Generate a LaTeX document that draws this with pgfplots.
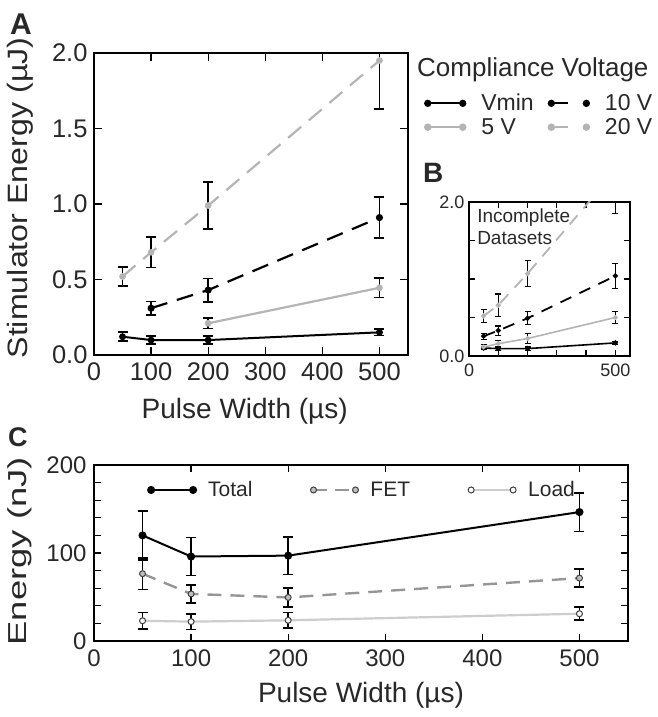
\documentclass[border=0pt]{standalone}
\usepackage{fontspec}
\setmainfont{Liberation Sans}
\usepackage{graphicx}
\usepackage{pgfplots}
\pgfplotsset{compat=1.18}

\definecolor{txt}{RGB}{40,40,40}
\definecolor{lgray}{RGB}{180,180,180}
\definecolor{fetgray}{RGB}{150,150,150}
\definecolor{loadgray}{RGB}{205,205,205}

\pgfplotsset{
  myaxis/.style={
    scale only axis,
    axis line style={line width=2.6pt, black},
    tick style={line width=1.2pt, black},
    major tick length=8pt,
    tick align=inside,
    /pgf/number format/assume math mode=true,
    ticklabel style={font=\fontsize{24}{26}\selectfont, text=txt},
    label style={font=\fontsize{28}{30}\selectfont, text=txt},
    legend cell align=left,
    legend image code/.code={\draw[mark repeat=1,#1] plot coordinates {(0pt,0pt) (35pt,0pt)};},
  },
  eb/.style={error bars/y dir=both, error bars/y explicit,
    error bars/error bar style={line width=1.7pt, black, solid},
    error bars/error mark options={rotate=90, mark size=5pt, line width=1.7pt, black, solid}},
  ebs/.style={error bars/y dir=both, error bars/y explicit,
    error bars/error bar style={line width=1.2pt, black, solid},
    error bars/error mark options={rotate=90, mark size=3pt, line width=1.2pt, black, solid}},
}

\begin{document}
\begin{tikzpicture}
\useasboundingbox (0,0) rectangle (658pt,717pt);

% ---------------- Panel A ----------------
\begin{axis}[myaxis, at={(94pt,362pt)}, anchor=south west,
  width=314pt, height=302pt,
  xmin=0, xmax=550, ymin=0, ymax=2,
  ticklabel style={font=\fontsize{25.5}{27}\selectfont},
  xtick={0,100,200,300,400,500}, ytick={0,0.5,1,1.5,2},
  yticklabel style={/pgf/number format/fixed, /pgf/number format/fixed zerofill, /pgf/number format/precision=1, xshift=-3pt},
  xticklabel style={yshift=-4pt},
  xlabel={Pulse Width (µs)},
  ylabel={\scalebox{1.15}[1]{Stimulator Energy (µJ)}},
  xlabel style={at={(axis description cs:0.48,-0.209)}, anchor=base},
  ylabel style={at={(axis description cs:-0.236,0.52)}, anchor=center},
  legend columns=2,
  legend style={at={(axis description cs:1.054,0.864)}, anchor=north west,
    draw=none, fill=none, inner sep=0pt,
    font=\fontsize{23}{25}\selectfont, text=txt,
    nodes={inner sep=0pt},
    row sep=6pt,
    /tikz/every odd column/.append style={column sep=16pt},
    /tikz/every even column/.append style={column sep=15pt}},
]
\addplot[black, line width=2pt, mark=*, mark size=2.4pt, eb, forget plot]
  table[x=x, y=y, y error=e] {
x y e
50 0.121 0.030
100 0.099 0.025
200 0.099 0.025
500 0.150 0.020
};
\addplot[lgray, line width=2.2pt, mark=*, mark size=2.2pt, eb, forget plot]
  table[x=x, y=y, y error=e] {
x y e
200 0.210 0.035
500 0.445 0.065
};
\addplot[black, line width=2.2pt, dash pattern=on 17pt off 10pt, mark=*, mark size=2.4pt, mark options={solid}, eb, forget plot]
  table[x=x, y=y, y error=e] {
x y e
100 0.310 0.045
200 0.430 0.077
500 0.910 0.135
};
\addplot[lgray, line width=2.2pt, dash pattern=on 17pt off 10pt, mark=*, mark size=2.2pt, mark options={solid}, eb, forget plot]
  table[x=x, y=y, y error=e] {
x y e
50 0.520 0.065
100 0.680 0.100
200 0.990 0.155
500 1.950 0.320
};
\addlegendimage{black, line width=2pt, mark=*, mark size=2.6pt}
\addlegendentry{Vmin}
\addlegendimage{black, line width=2pt, dash pattern=on 17pt off 40pt, mark=*, mark size=2.6pt, mark options={solid}}
\addlegendentry{10 V}
\addlegendimage{lgray, line width=2.2pt, mark=*, mark size=2.6pt}
\addlegendentry{5 V}
\addlegendimage{lgray, line width=2.2pt, dash pattern=on 17pt off 40pt, mark=*, mark size=2.6pt, mark options={solid}}
\addlegendentry{20 V}
\end{axis}

% ---------------- Panel B ----------------
\begin{axis}[myaxis, at={(469pt,361pt)}, anchor=south west,
  width=161pt, height=154pt,
  xmin=0, xmax=550, ymin=0, ymax=2,
  clip mode=individual,
  major tick length=6pt,
  ticklabel style={font=\fontsize{18}{20}\selectfont, text=txt},
  xtick={0,100,200,300,400,500}, xticklabels={0,,,,,500},
  ytick={0,0.5,1,1.5,2}, yticklabels={0.0,,,,2.0},
  yticklabel style={xshift=-1pt},
  xticklabel style={yshift=-4pt},
]
\addplot[black, line width=1.6pt, mark=*, mark size=1.8pt, ebs]
  table[x=x, y=y, y error=e] {
x y e
50 0.104 0.020
100 0.096 0.020
200 0.096 0.020
500 0.170 0.020
};
\addplot[lgray, line width=1.6pt, mark=*, mark size=1.6pt, ebs]
  table[x=x, y=y, y error=e] {
x y e
50 0.117 0.030
100 0.160 0.045
200 0.227 0.065
500 0.500 0.076
};
\addplot[black, line width=1.8pt, dash pattern=on 12pt off 9pt, mark=*, mark size=1.6pt, mark options={solid}, ebs]
  table[x=x, y=y, y error=e] {
x y e
50 0.257 0.040
100 0.330 0.060
200 0.490 0.085
500 1.040 0.160
};
\addplot[lgray, line width=1.8pt, dash pattern=on 12pt off 9pt, mark=*, mark size=1.6pt, mark options={solid}, ebs]
  table[x=x, y=y, y error=e] {
x y e
50 0.520 0.085
100 0.660 0.145
200 1.070 0.170
500 2.400 0.550
};
\node[anchor=north west, align=left, inner sep=0pt, text=txt,
  font=\fontsize{19}{22}\selectfont] at (axis description cs:0.05,0.955)
  {Incomplete\\Datasets};
\end{axis}

% ---------------- Panel C ----------------
\begin{axis}[myaxis, at={(94pt,76pt)}, anchor=south west,
  width=534pt, height=176pt,
  xmin=0, xmax=550, ymin=0, ymax=200,
  major tick length=7pt,
  xtick={0,100,200,300,400,500},
  ytick={0,20,40,60,80,100,120,140,160,180,200},
  yticklabels={0,,,,,100,,,,,200},
  yticklabel style={xshift=-4pt},
  xticklabel style={yshift=-5pt},
  xlabel={Pulse Width (µs)},
  ylabel={\scalebox{1.4}[1]{Energy (nJ)}},
  ylabel style={font=\fontsize{26}{28}\selectfont},
  xlabel style={at={(axis description cs:0.5,-0.352)}, anchor=base},
  ylabel style={at={(axis description cs:-0.139,0.51)}, anchor=center},
  legend columns=3,
  legend image code/.code={\draw[mark repeat=1,#1] plot coordinates {(0pt,0pt) (42pt,0pt)};},
  legend style={at={(axis description cs:0.101,0.858)}, anchor=west,
    draw=none, fill=none, inner sep=0pt,
    font=\fontsize{21}{23}\selectfont, text=txt,
    nodes={inner sep=0pt},
    /tikz/every odd column/.append style={column sep=12pt},
    /tikz/every even column/.append style={column sep=58pt}},
]
\addplot[loadgray, line width=2.2pt, mark=*, mark size=3pt, mark options={draw=black!75, fill=white, line width=1pt}, eb, forget plot]
  table[x=x, y=y, y error=e] {
x y e
50 23.0 9.5
100 22.0 9.0
200 23.5 9.0
500 31.0 7.5
};
\addplot[fetgray, line width=2.4pt, dash pattern=on 14pt off 9pt, mark=*, mark size=3pt, mark options={solid, draw=black!75, fill=black!25, line width=1pt}, eb, forget plot]
  table[x=x, y=y, y error=e] {
x y e
50 76.5 18.0
100 53.5 10.5
200 49.5 11.0
500 71.5 10.0
};
\addplot[black, line width=2pt, mark=*, mark size=3pt, eb, forget plot]
  table[x=x, y=y, y error=e] {
x y e
50 120.0 28.0
100 96.0 21.5
200 97.0 21.5
500 146.5 22.0
};
\addlegendimage{black, line width=2pt, mark=*, mark size=3pt}
\addlegendentry{Total}
\addlegendimage{fetgray, line width=2.4pt, dash pattern=on 14pt off 8pt, mark=*, mark size=3pt, mark options={solid, draw=black!75, fill=black!25, line width=1pt}}
\addlegendentry{FET}
\addlegendimage{loadgray, line width=2.2pt, mark=*, mark size=3pt, mark options={draw=black!75, fill=white, line width=1pt}}
\addlegendentry{Load}
\end{axis}

% ---------------- titles and panel letters ----------------
\node[anchor=base west, inner sep=0pt, text=txt, font=\fontsize{26}{28}\selectfont] at (417pt,640pt) {Compliance Voltage};
\node[anchor=base west, inner sep=0pt, text=txt, font=\bfseries\fontsize{30}{30}\selectfont] at (10pt,682pt) {A};
\node[anchor=base west, inner sep=0pt, text=txt, font=\bfseries\fontsize{28}{28}\selectfont] at (423pt,534pt) {B};
\node[anchor=base west, inner sep=0pt, text=txt, font=\bfseries\fontsize{27}{27}\selectfont] at (8pt,270pt) {C};
\end{tikzpicture}
\end{document}
